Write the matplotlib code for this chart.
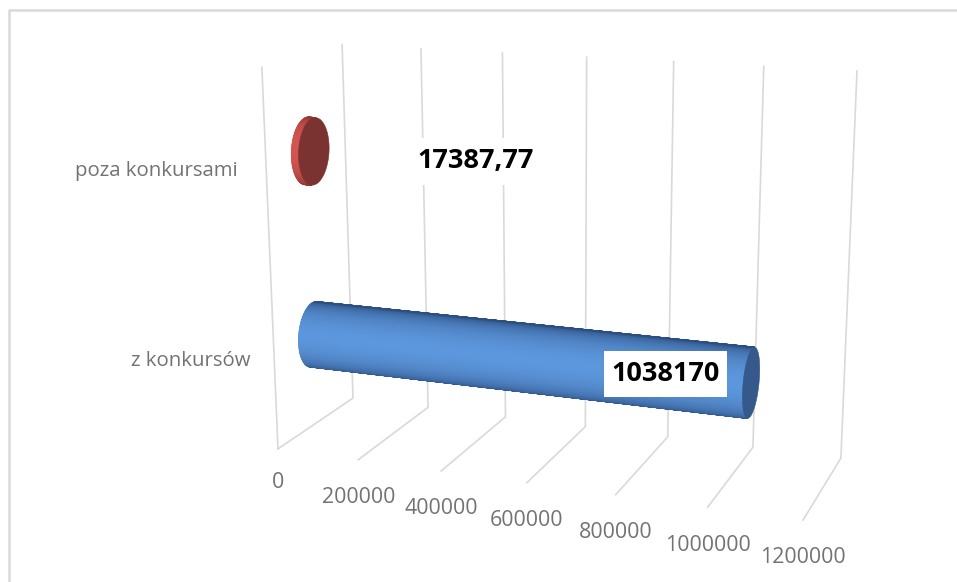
import numpy as np
import matplotlib
matplotlib.use("Agg")
import matplotlib.pyplot as plt
from matplotlib.collections import PolyCollection
from matplotlib.patches import Polygon, Rectangle

# dane wykresu
categories = ["z konkursów", "poza konkursami"]
values = [1038170, 17387.77]
tick_values = [0, 200000, 400000, 600000, 800000, 1000000, 1200000]
axis_max = 1200000

# kolory
grid_color = "#d9d9d9"
text_color = "#737373"
body_light = [np.array([0x5c, 0x96, 0xdc]) / 255, np.array([0xd4, 0x55, 0x50]) / 255]
body_dark = [np.array([0x2c, 0x4f, 0x80]) / 255, np.array([0x8a, 0x33, 0x30]) / 255]
cap_colors = ["#34598a", "#7a3331"]

plt.rcParams["font.family"] = ["Open Sans", "DejaVu Sans"]

fig = plt.figure(figsize=(9.57, 5.82), dpi=100)
ax = fig.add_axes([0, 0, 1, 1])
ax.set_xlim(0, 957)
ax.set_ylim(582, 0)
ax.axis("off")

# rzut perspektywiczny 3D -> piksele, skalibrowany na narozach pudelka wykresu
# (wartosc 0..1, glebokosc 0=tyl 1=przod, wysokosc 0..1)
box_3d = [(0, 0, 0), (0, 0, 1), (0, 1, 0), (0, 1, 1), (1, 0, 0), (1, 0, 1), (1, 1, 0)]
box_px = [(353, 398), (342, 45), (278, 449), (262, 67), (841, 458), (857, 71), (803, 520)]
rows = []
for (a, b, c), (u, w) in zip(box_3d, box_px):
    rows.append([a, b, c, 1, 0, 0, 0, 0, -u * a, -u * b, -u * c, -u])
    rows.append([0, 0, 0, 0, a, b, c, 1, -w * a, -w * b, -w * c, -w])
cam = np.linalg.svd(np.array(rows, dtype=float))[2][-1].reshape(3, 4)


def project(v, d, h):
    p = cam @ np.array([v / axis_max, d, h, 1.0])
    return p[0] / p[2], p[1] / p[2]


# linie siatki
for t in tick_values:
    pts = [project(t, 0, 1), project(t, 0, 0), project(t, 1, 0)]
    ax.plot(*zip(*pts), color=grid_color, lw=1.2, zorder=1, solid_joinstyle="miter")
    x, y = project(t, 1, 0)
    dy = 34 if t == 0 else 38
    ax.text(x, y + dy, str(t), color=text_color, fontsize=15.4, ha="center", va="center", zorder=2)
ax.plot(*zip(project(0, 1, 1), project(0, 1, 0)), color=grid_color, lw=1.2, zorder=1)

# ramka
ax.plot([9, 9, 957], [582, 10, 10], color=grid_color, lw=1.8, zorder=1)

# walce
radius_d = 0.195
radius_h = 0.088
bar_heights = [0.25, 0.75]
label_offsets = [(-86, -9), (162, 10)]
box_sizes = [(123, 46), (125, 47)]
name_dx = [-24, -28]
angles = np.radians(np.arange(0, 360.5, 1))
light_angle = 0.28  # swiatlo nieco od gory, zeby jasny pas byl na srodku walca

for i, (name, val) in enumerate(zip(categories, values)):
    hc = bar_heights[i]
    ring_d = 0.5 + radius_d * np.cos(angles)
    ring_h = hc + radius_h * np.sin(angles)
    start = np.array([project(0, d, h) for d, h in zip(ring_d, ring_h)])
    end = np.array([project(val, d, h) for d, h in zip(ring_d, ring_h)])

    quads, colors = [], []
    for k in range(len(angles) - 1):
        q = np.array([start[k], end[k], end[k + 1], start[k + 1]])
        x, y = q[:, 0], q[:, 1]
        area = np.sum(x * np.roll(y, -1) - np.roll(x, -1) * y)
        if area > 0:
            continue
        shade = max(np.cos((angles[k] + angles[k + 1]) / 2 - light_angle), 0)
        quads.append(q)
        colors.append(body_dark[i] + (body_light[i] - body_dark[i]) * shade)
    ax.add_collection(PolyCollection(quads, facecolors=colors, edgecolors=colors, linewidths=0.8, zorder=3))
    ax.add_patch(Polygon(end, closed=True, facecolor=cap_colors[i], edgecolor=cap_colors[i], lw=0.4, zorder=4))

    # etykieta wartosci na bialym tle
    cx, cy = project(val, 0.5, hc)
    lx, ly = cx + label_offsets[i][0], cy + label_offsets[i][1]
    bw, bh = box_sizes[i]
    ax.add_patch(Rectangle((lx - bw / 2, ly - bh / 2), bw, bh, facecolor="white", edgecolor="none", zorder=5))
    ax.text(lx, ly, str(val).replace(".", ","), color="black", fontsize=19.5, fontweight="bold",
            ha="center", va="center", zorder=6)

    # nazwa kategorii
    x, y = project(0, 1, hc)
    ax.text(x + name_dx[i], y + 4, name, color=text_color, fontsize=14.7, ha="right", va="center", zorder=2)

fig.savefig("out.png", dpi=100)
